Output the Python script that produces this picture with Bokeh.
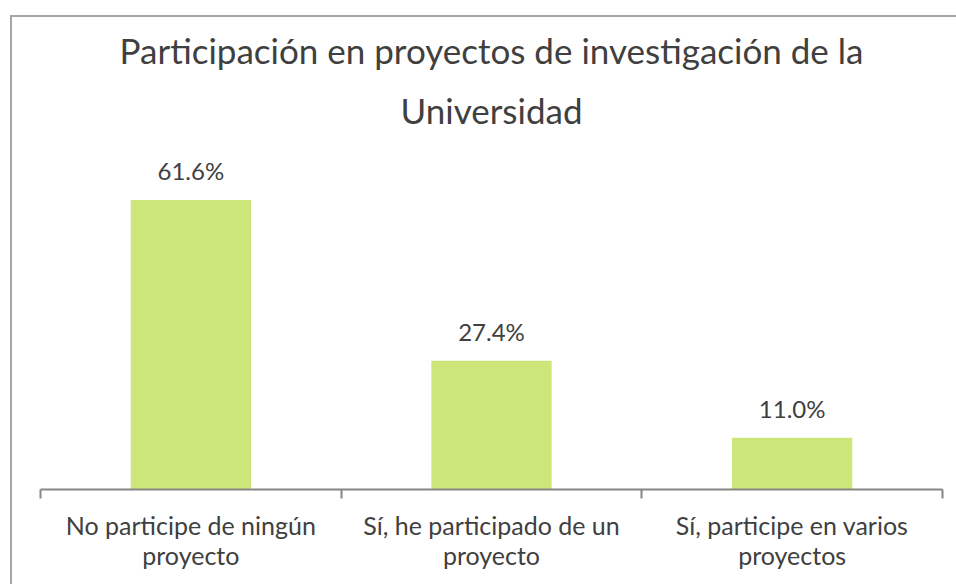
import numpy as np
from bokeh.plotting import figure
from bokeh.models import ColumnDataSource, LabelSet, Range1d, FixedTicker, LinearAxis, Title
from bokeh.core.properties import value
from bokeh.embed import file_html
from bokeh.resources import INLINE

categories = ["No participe de ningún\nproyecto", "Sí, he participado de un\nproyecto", "Sí, participe en varios\nproyectos"]
values = [61.6, 27.4, 11.0]
value_labels = ["61.6%", "27.4%", "11.0%"]
title_lines = ["Participación en proyectos de investigación de la", "Universidad"]

TEXT = "#404040"
FONT = "Lato"

xc = np.arange(len(categories)) + 0.5
src = ColumnDataSource(dict(x=xc, top=values, lab=value_labels))

p = figure(width=946, height=569, output_backend="svg", toolbar_location=None,
           x_range=Range1d(0, len(categories)), y_range=Range1d(0, 70),
           x_axis_type=None, y_axis_type=None,
           min_border_left=30, min_border_right=14, min_border_top=145, min_border_bottom=95,
           styles={"box-shadow": "inset 2px 2px 0 0 #a6a6a6", "background-color": "white",
                   "margin-left": "10px", "margin-top": "15px"})
p.outline_line_color = None
p.xgrid.visible = False
p.ygrid.visible = False
p.background_fill_color = None
p.border_fill_color = None

p.add_layout(Title(text=title_lines[1], align="center", text_font=FONT, text_font_size="35px",
                   text_font_style="normal", text_color=TEXT, standoff=59), "above")
p.add_layout(Title(text=title_lines[0], align="center", text_font=FONT, text_font_size="35px",
                   text_font_style="normal", text_color=TEXT, standoff=-26), "above")

p.vbar(x="x", top="top", width=0.4, bottom=0, source=src, fill_color="#cde67a", line_color=None)

ax = LinearAxis(ticker=FixedTicker(ticks=list(xc), minor_ticks=list(range(len(categories) + 1))))
ax.major_label_overrides = {float(x): c for x, c in zip(xc, categories)}
ax.major_tick_out = 0
ax.major_tick_in = 0
ax.minor_tick_out = 9
ax.minor_tick_in = 0
ax.minor_tick_line_color = "#868686"
ax.minor_tick_line_width = 2
ax.axis_line_color = "#868686"
ax.axis_line_width = 2
ax.major_label_text_font = FONT
ax.major_label_text_font_size = "25px"
ax.major_label_text_color = TEXT
ax.major_label_text_line_height = 1.0
ax.major_label_standoff = 11
p.add_layout(ax, "below")

labels = LabelSet(x="x", y="top", text="lab", source=src, y_offset=15, text_align="center",
                  text_baseline="bottom", text_font=value(FONT), text_font_size=value("24px"),
                  text_color=TEXT)
p.add_layout(labels)

open("out.html", "w").write(file_html(p, INLINE))
